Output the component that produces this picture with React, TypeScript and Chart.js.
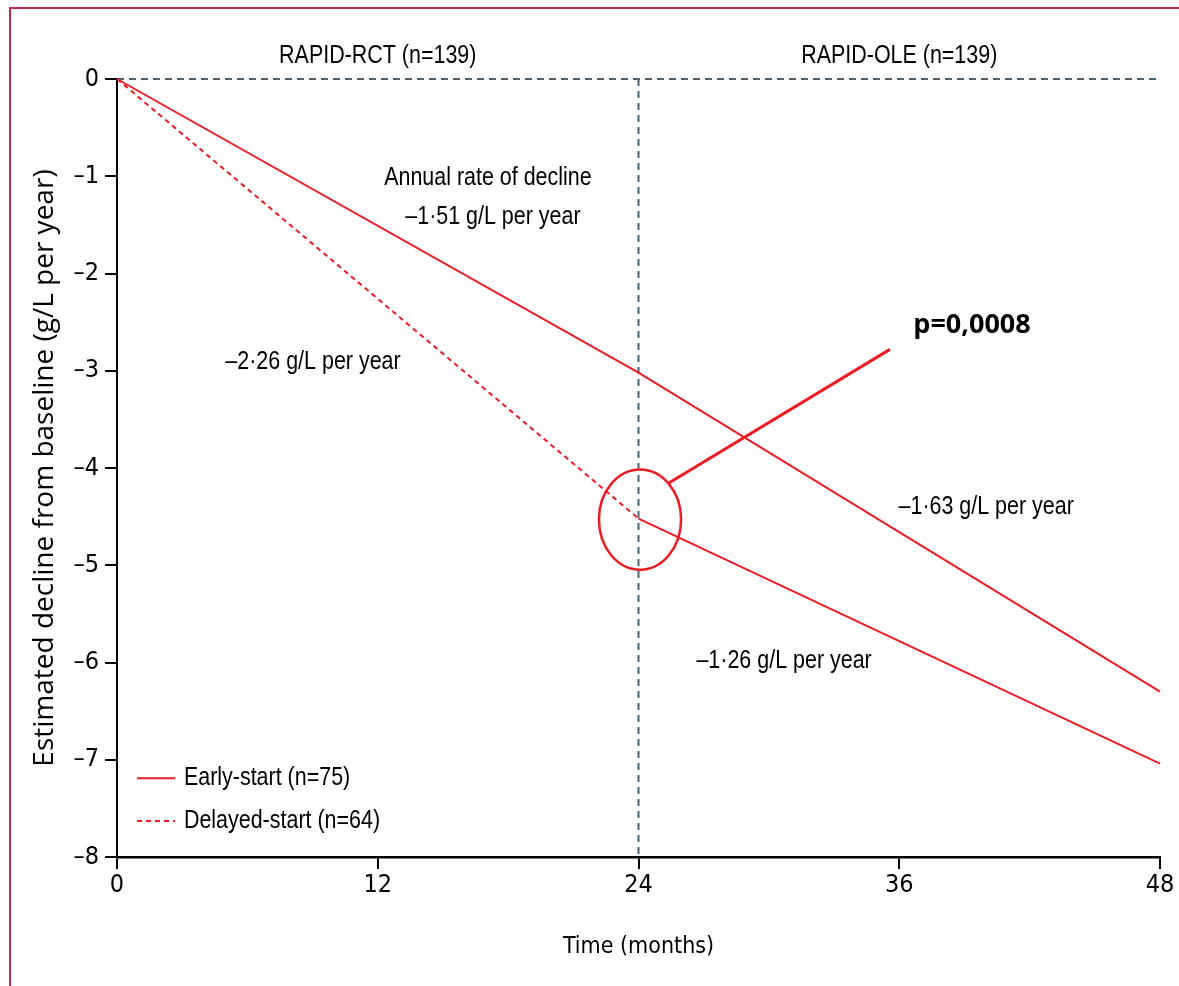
import React, { useEffect, useRef } from 'react';
import { Chart, registerables } from 'chart.js';

Chart.register(...registerables);

// ---- data ----
const months = [0, 24, 48];
const earlyStart = [0, -3.02, -6.3];
const delayedStart = [0, -4.52, -7.04];
const xTickValues = [0, 12, 24, 36, 48];
const yTickValues = [0, -1, -2, -3, -4, -5, -6, -7, -8];
const yTickLabels = ['0', '–1', '–2', '–3', '–4', '–5', '–6', '–7', '–8'];
const seriesLabels = ['Early-start (n=75)', 'Delayed-start (n=64)'];
const periodLabels = ['RAPID-RCT (n=139)', 'RAPID-OLE (n=139)'];
const periodCentres = [12, 36];
const rateLabels = ['Annual rate of decline', '–1·51 g/L per year', '–2·26 g/L per year', '–1·63 g/L per year', '–1·26 g/L per year'];
const pValueLabel = 'p=0,0008';

// ---- styling / placement (not data) ----
const RED = '#ec1c24';
const GREY = '#4b6370';
const NARROW = '"DejaVu Sans Condensed", sans-serif';
const TEXT_FONT = '26px "Liberation Sans", Arial, sans-serif';
const TEXT_SX = 0.825;
const rateLabelPos = [
  { x: 17.07, y: -1.02 },
  { x: 17.3, y: -1.42 },
  { x: 9.02, y: -2.91 },
  { x: 40.0, y: -4.4 },
  { x: 30.7, y: -5.98 },
];
const pValuePos = { x: 39.35, y: -2.53 };
const ellipse = { x: 24.07, y: -4.53, rx: 1.89, ry: 0.515 };
const pointer = { x1: 25.36, y1: -4.16, x2: 35.57, y2: -2.78 };
const legendPos = { x1: 0.92, x2: 2.67, xt: 3.08, y: [-7.19, -7.63] };

function drawNarrow(ctx: CanvasRenderingContext2D, text: string, x: number, y: number, align: CanvasTextAlign) {
  ctx.save();
  ctx.translate(x, y);
  ctx.scale(TEXT_SX, 1);
  ctx.textAlign = align;
  ctx.fillText(text, 0, 0);
  ctx.restore();
}

const annotationPlugin = {
  id: 'annotations',
  afterDatasetsDraw(chart: any) {
    const { ctx } = chart;
    const xs = chart.scales.x;
    const ys = chart.scales.y;
    const px = (v: number) => xs.getPixelForValue(v);
    const py = (v: number) => ys.getPixelForValue(v);
    ctx.save();
    ctx.fillStyle = '#000';
    ctx.textBaseline = 'middle';
    ctx.font = TEXT_FONT;
    periodLabels.forEach((t, i) => drawNarrow(ctx, t, px(periodCentres[i]), py(0.235), 'center'));
    rateLabels.forEach((t, i) => drawNarrow(ctx, t, px(rateLabelPos[i].x), py(rateLabelPos[i].y), 'center'));
    ctx.font = 'bold 27px "Open Sans", "Noto Sans", sans-serif';
    ctx.textAlign = 'center';
    ctx.fillText(pValueLabel, px(pValuePos.x), py(pValuePos.y));

    // ellipse + pointer
    ctx.strokeStyle = RED;
    ctx.lineWidth = 2.5;
    ctx.beginPath();
    const cx = px(ellipse.x);
    const cy = py(ellipse.y);
    const rx = Math.abs(px(ellipse.x + ellipse.rx) - cx);
    const ry = Math.abs(py(ellipse.y + ellipse.ry) - cy);
    ctx.ellipse(cx, cy, rx, ry, 0, 0, Math.PI * 2);
    ctx.stroke();
    ctx.lineWidth = 3;
    ctx.beginPath();
    ctx.moveTo(px(pointer.x1), py(pointer.y1));
    ctx.lineTo(px(pointer.x2), py(pointer.y2));
    ctx.stroke();

    // legend
    ctx.font = TEXT_FONT;
    seriesLabels.forEach((t, i) => {
      const y = py(legendPos.y[i]);
      ctx.strokeStyle = RED;
      ctx.lineWidth = 2;
      ctx.setLineDash(i === 1 ? [5, 4] : []);
      ctx.beginPath();
      ctx.moveTo(px(legendPos.x1), y);
      ctx.lineTo(px(legendPos.x2), y);
      ctx.stroke();
      drawNarrow(ctx, t, px(legendPos.xt), y, 'left');
    });
    ctx.restore();
  },
};

export default function App() {
  const canvasRef = useRef<HTMLCanvasElement | null>(null);

  useEffect(() => {
    if (!canvasRef.current) return;
    const chart = new Chart(canvasRef.current, {
      type: 'line',
      data: {
        datasets: [
          {
            label: 'baseline',
            data: [{ x: 0, y: 0 }, { x: 48, y: 0 }],
            borderColor: GREY,
            borderWidth: 2,
            borderDash: [7, 5],
            pointRadius: 0,
            clip: false,
            order: 3,
          },
          {
            label: 'switch',
            data: [{ x: 24, y: 0 }, { x: 24, y: -8 }],
            borderColor: GREY,
            borderWidth: 2,
            borderDash: [7, 5],
            pointRadius: 0,
            clip: false,
            order: 3,
          },
          {
            label: seriesLabels[0],
            data: months.map((m, i) => ({ x: m, y: earlyStart[i] })),
            borderColor: RED,
            borderWidth: 2,
            pointRadius: 0,
            tension: 0,
            clip: false,
            order: 1,
          },
          {
            label: seriesLabels[1],
            data: months.map((m, i) => ({ x: m, y: delayedStart[i] })),
            borderColor: RED,
            borderWidth: 2,
            pointRadius: 0,
            tension: 0,
            clip: false,
            order: 1,
            segment: {
              borderDash: (c: any) => (c.p0DataIndex === 0 ? [5, 4] : []),
            },
          },
        ],
      },
      options: {
        animation: false,
        responsive: false,
        maintainAspectRatio: false,
        layout: { padding: { left: 0, right: 19, top: 79, bottom: 0 } },
        plugins: { legend: { display: false }, tooltip: { enabled: false } },
        scales: {
          x: {
            type: 'linear',
            min: 0,
            max: 48,
            afterBuildTicks: (s: any) => {
              s.ticks = xTickValues.map((v) => ({ value: v }));
            },
            afterFit: (s: any) => {
              s.height = 129;
            },
            ticks: {
              color: '#000',
              font: { family: NARROW, size: 25 },
              padding: 1,
              maxRotation: 0,
              callback: (v: any) => String(v),
            },
            grid: { drawOnChartArea: false, drawTicks: true, tickLength: 12, color: '#000', lineWidth: 2 },
            border: { display: true, color: '#000', width: 2.5 },
            title: {
              display: true,
              text: 'Time (months)',
              color: '#000',
              font: { family: NARROW, size: 23 },
              padding: { top: 0, bottom: 25 },
            },
          },
          y: {
            type: 'linear',
            min: -8,
            max: 0,
            afterBuildTicks: (s: any) => {
              s.ticks = yTickValues.map((v) => ({ value: v }));
            },
            afterFit: (s: any) => {
              s.width = 117;
            },
            ticks: {
              color: '#000',
              font: { family: NARROW, size: 25 },
              padding: 6,
              callback: (v: any) => yTickLabels[yTickValues.indexOf(Number(v))],
            },
            grid: { drawOnChartArea: false, drawTicks: true, tickLength: 12, color: '#000', lineWidth: 2 },
            border: { display: true, color: '#000', width: 2 },
            title: {
              display: true,
              text: 'Estimated decline from baseline (g/L per year)',
              color: '#000',
              font: { family: '"Open Sans", "Noto Sans", sans-serif', size: 28 },
              padding: { top: 28, bottom: 0 },
            },
          },
        },
      } as any,
      plugins: [annotationPlugin],
    });
    return () => chart.destroy();
  }, []);

  return (
    <div style={{ position: 'absolute', left: 0, top: 0, width: 1179, height: 986, background: '#fff' }}>
      <div
        style={{
          position: 'absolute',
          left: 9,
          top: 7,
          width: 1179 - 9,
          height: 986 - 7,
          borderTop: '2px solid #c2284f',
          borderLeft: '2px solid #c2284f',
          boxSizing: 'border-box',
        }}
      />
      <canvas ref={canvasRef} width={1179} height={986} style={{ position: 'absolute', left: 0, top: 0 }} />
    </div>
  );
}
